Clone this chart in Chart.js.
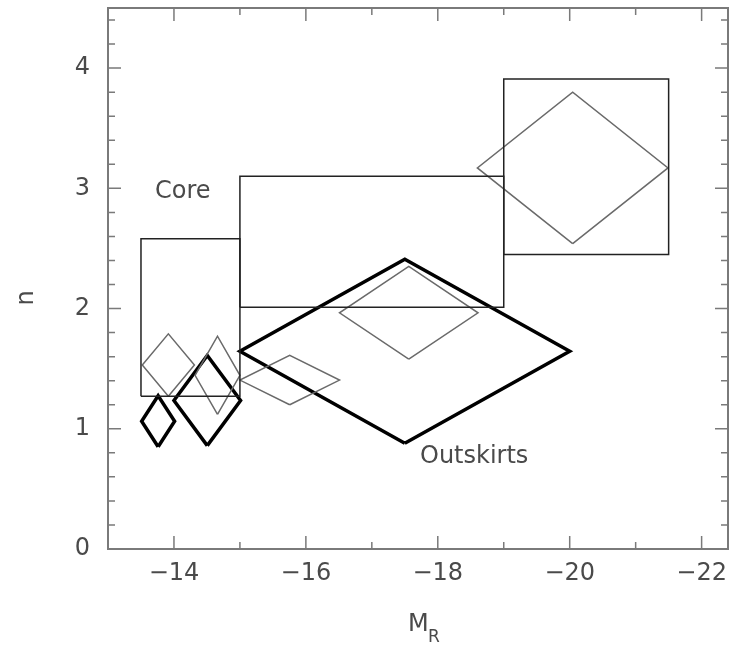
<!DOCTYPE html>
<html>
<head>
<meta charset="utf-8">
<script src="https://cdn.jsdelivr.net/npm/chart.js@4/dist/chart.umd.min.js"></script>
<style>
  html, body { margin: 0; padding: 0; background: #fff; }
  #wrap { width: 735px; height: 646px; }
</style>
</head>
<body>
<div id="wrap"><canvas id="c" width="735" height="646"></canvas></div>
<script>
// rectangles (Core)
const boxXMin = [-13.5, -15.0, -19.0];
const boxXMax = [-15.0, -19.0, -21.5];
const boxYMin = [1.27, 2.01, 2.45];
const boxYMax = [2.58, 3.10, 3.91];

// thin grey diamonds
const greyXMin = [-13.52, -14.32, -15.0, -16.51, -18.60];
const greyXMax = [-14.31, -15.0, -16.51, -18.61, -21.49];
const greyYMin = [1.27, 1.12, 1.20, 1.58, 2.54];
const greyYMax = [1.79, 1.77, 1.61, 2.35, 3.80];

// thick diamonds (Outskirts)
const outXMin = [-13.51, -14.0, -15.0];
const outXMax = [-14.01, -15.01, -20.0];
const outYMin = [0.85, 0.86, 0.88];
const outYMax = [1.275, 1.61, 2.41];

// axes
const xTicks = [-14, -16, -18, -20, -22];
const yTicks = [0, 1, 2, 3, 4];
const xMin = -22.4, xMax = -13;
const yMin = 0, yMax = 4.5;

const FONT = "'DejaVu Sans', sans-serif";
const TEXT = "#4a4a4a";

function box(i) {
  return [
    { x: boxXMin[i], y: boxYMin[i] }, { x: boxXMax[i], y: boxYMin[i] },
    { x: boxXMax[i], y: boxYMax[i] }, { x: boxXMin[i], y: boxYMax[i] },
    { x: boxXMin[i], y: boxYMin[i] }
  ];
}
function diamond(x0, x1, y0, y1) {
  const xm = (x0 + x1) / 2, ym = (y0 + y1) / 2;
  return [
    { x: xm, y: y0 }, { x: x1, y: ym }, { x: xm, y: y1 },
    { x: x0, y: ym }, { x: xm, y: y0 }
  ];
}

const datasets = [];
boxXMin.forEach((v, i) => {
  datasets.push({ data: box(i), borderColor: "#222", borderWidth: 1.5 });
});
greyXMin.forEach((v, i) => {
  datasets.push({ data: diamond(greyXMin[i], greyXMax[i], greyYMin[i], greyYMax[i]),
    borderColor: "#6a6a6a", borderWidth: 1.5 });
});
outXMin.forEach((v, i) => {
  datasets.push({ data: diamond(outXMin[i], outXMax[i], outYMin[i], outYMax[i]),
    borderColor: "#000", borderWidth: 3.5 });
});
datasets.forEach(d => {
  d.showLine = true; d.pointRadius = 0; d.fill = false; d.tension = 0;
  d.borderJoinStyle = "miter";
});

// frame, inside ticks, free text
const decor = {
  id: "decor",
  afterDraw(chart) {
    const ctx = chart.ctx, a = chart.chartArea;
    const xs = chart.scales.x, ys = chart.scales.y;
    ctx.save();
    ctx.strokeStyle = "#7a7a7a";
    ctx.lineWidth = 2;
    ctx.strokeRect(a.left, a.top, a.right - a.left, a.bottom - a.top);
    ctx.lineWidth = 1.5;
    ctx.beginPath();
    for (let v = -14; v >= xMin; v -= 1) {
      const px = xs.getPixelForValue(v);
      const len = v % 2 === 0 ? 13 : 7;
      ctx.moveTo(px, a.bottom); ctx.lineTo(px, a.bottom - len);
      ctx.moveTo(px, a.top); ctx.lineTo(px, a.top + len);
    }
    for (let k = 1; k * 0.2 < yMax; k++) {
      const py = ys.getPixelForValue(k * 0.2);
      const len = k % 5 === 0 ? 13 : 7;
      ctx.moveTo(a.left, py); ctx.lineTo(a.left + len, py);
      ctx.moveTo(a.right, py); ctx.lineTo(a.right - len, py);
    }
    ctx.stroke();

    ctx.fillStyle = TEXT;
    ctx.font = "24px " + FONT;
    ctx.textBaseline = "middle";
    ctx.textAlign = "left";
    ctx.fillText("Core", 155, 192);
    ctx.fillText("Outskirts", 420, 457);

    // axis titles
    ctx.fillText("M", 408, 625);
    ctx.font = "17px " + FONT;
    ctx.fillText("R", 428, 638);
    ctx.save();
    ctx.translate(27, 298);
    ctx.rotate(-Math.PI / 2);
    ctx.textAlign = "center";
    ctx.font = "24px " + FONT;
    ctx.fillText("n", 0, 0);
    ctx.restore();
    ctx.restore();
  }
};

new Chart(document.getElementById("c"), {
  type: "scatter",
  data: { datasets: datasets },
  options: {
    responsive: false,
    animation: false,
    layout: { padding: { left: 0, top: 8, right: 7, bottom: 0 } },
    plugins: { legend: { display: false }, tooltip: { enabled: false } },
    scales: {
      x: {
        type: "linear",
        min: xMin, max: xMax, reverse: true,
        grid: { display: false, drawTicks: false },
        border: { display: false },
        afterBuildTicks: s => { s.ticks = xTicks.map(v => ({ value: v })); },
        afterFit: s => { s.height = 97; s.paddingLeft = 0; s.paddingRight = 0; },
        ticks: {
          autoSkip: false, maxRotation: 0, padding: 10,
          color: TEXT, font: { family: FONT, size: 24 },
          callback: v => "\u2212" + Math.abs(v)
        }
      },
      y: {
        type: "linear",
        min: yMin, max: yMax,
        grid: { display: false, drawTicks: false },
        border: { display: false },
        afterBuildTicks: s => { s.ticks = yTicks.map(v => ({ value: v })); },
        afterFit: s => { s.width = 108; s.paddingTop = 0; s.paddingBottom = 0; },
        ticks: {
          autoSkip: false, padding: 18,
          color: TEXT, font: { family: FONT, size: 24 },
          callback: v => String(v)
        }
      }
    }
  },
  plugins: [decor]
});
</script>
</body>
</html>
